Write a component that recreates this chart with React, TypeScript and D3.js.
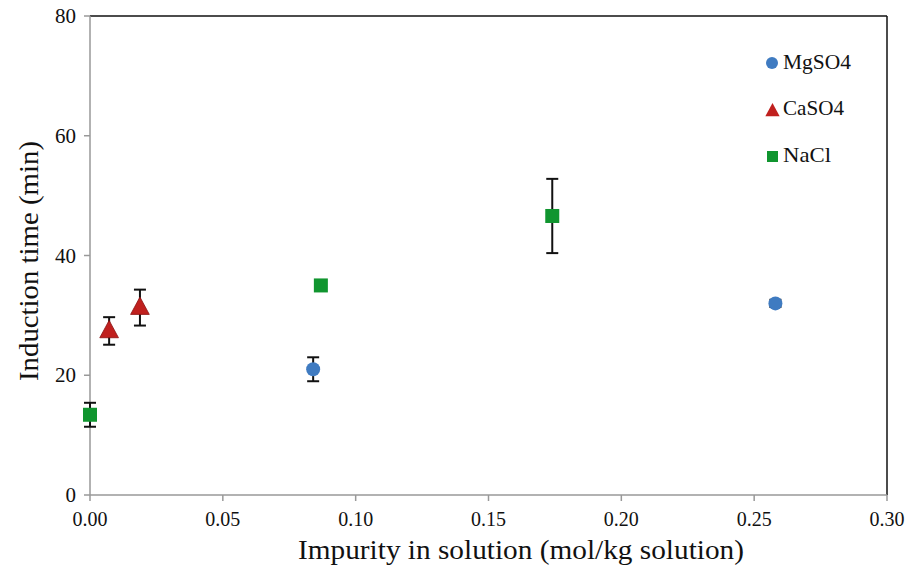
import React from "react";
import * as d3 from "d3";

const mgX = [0.084, 0.258];
const mgY = [21.0, 32.0];
const mgErr = [2.0, 0.6];

const caX = [0.0072, 0.0188];
const caY = [27.4, 31.3];
const caErr = [2.3, 3.0];

const naX = [0.0, 0.0869, 0.174];
const naY = [13.4, 35.0, 46.6];
const naErr = [2.0, 0.5, 6.2];

const xTicks = [0, 0.05, 0.1, 0.15, 0.2, 0.25, 0.3];
const yTicks = [0, 20, 40, 60, 80];

const W = 907, H = 569;
const L = 90, R = 887, T = 16, B = 495;
const FONT = "'Liberation Serif', 'DejaVu Serif', serif";

export default function App() {
  const x = d3.scaleLinear().domain([0, 0.3]).range([L, R]);
  const y = d3.scaleLinear().domain([0, 80]).range([B, T]);
  const blue = "#3f7bc1";
  const red = "#c0201e";
  const green = "#10952f";

  const errBar = (cx: number, cy: number, e: number, key: string) => {
    const y1 = y(cy + e), y2 = y(cy - e);
    return (
      <g key={key} stroke="#111" strokeWidth={2}>
        <line x1={x(cx)} x2={x(cx)} y1={y1} y2={y2} />
        <line x1={x(cx) - 6} x2={x(cx) + 6} y1={y1} y2={y1} />
        <line x1={x(cx) - 6} x2={x(cx) + 6} y1={y2} y2={y2} />
      </g>
    );
  };
  const tri = (cx: number, cy: number, s: number) =>
    `M${cx},${cy - s * 0.62} L${cx + s * 0.55},${cy + s * 0.4} L${cx - s * 0.55},${cy + s * 0.4} Z`;

  const legend = [
    { label: "MgSO4", by: 69, len: 68 },
    { label: "CaSO4", by: 115, len: 61 },
    { label: "NaCl", by: 162, len: 48 },
  ];

  return (
    <svg width={W} height={H} style={{ position: "absolute", left: 0, top: 0, background: "#fff" }}>
      <rect x={0} y={0} width={W} height={H} fill="#fff" />
      {/* frame */}
      <line x1={L} x2={R} y1={T} y2={T} stroke="#111" strokeWidth={1.5} />
      <line x1={R} x2={R} y1={T} y2={B} stroke="#111" strokeWidth={1.5} />
      <line x1={L} x2={L} y1={T} y2={B} stroke="#999" strokeWidth={1.5} />
      <line x1={L} x2={R} y1={B} y2={B} stroke="#999" strokeWidth={1.5} />
      {yTicks.map((t) => (
        <g key={"y" + t}>
          <line x1={L - 6} x2={L} y1={y(t)} y2={y(t)} stroke="#999" strokeWidth={1.5} />
          <text x={L - 14} y={y(t) + 7} textAnchor="end" fontFamily={FONT} fontSize={21} fill="#111">
            {t}
          </text>
        </g>
      ))}
      {xTicks.map((t) => (
        <g key={"x" + t}>
          <line x1={x(t)} x2={x(t)} y1={B} y2={B + 6} stroke="#999" strokeWidth={1.5} />
          <text x={x(t)} y={526} textAnchor="middle" fontFamily={FONT} fontSize={21} fill="#111"
            textLength={35} lengthAdjust="spacingAndGlyphs">
            {t.toFixed(2)}
          </text>
        </g>
      ))}
      <text x={521} y={559} textAnchor="middle" fontFamily={FONT} fontSize={28} fill="#111"
        textLength={446} lengthAdjust="spacingAndGlyphs">
        Impurity in solution (mol/kg solution)
      </text>
      <text
        transform={`translate(38,261) rotate(-90)`}
        textAnchor="middle"
        fontFamily={FONT}
        fontSize={28}
        fill="#111"
        textLength={240}
        lengthAdjust="spacingAndGlyphs"
      >
        Induction time (min)
      </text>

      {/* error bars */}
      {mgX.map((v, i) => errBar(v, mgY[i], mgErr[i], "me" + i))}
      {caX.map((v, i) => errBar(v, caY[i], caErr[i], "ce" + i))}
      {naX.map((v, i) => errBar(v, naY[i], naErr[i], "ne" + i))}

      {/* markers */}
      {mgX.map((v, i) => (
        <circle key={"m" + i} cx={x(v)} cy={y(mgY[i])} r={7} fill={blue} />
      ))}
      {caX.map((v, i) => (
        <path key={"c" + i} d={tri(x(v), y(caY[i]), 17)} fill={red} stroke="#8a1010" strokeWidth={0.8} />
      ))}
      {naX.map((v, i) => (
        <rect key={"n" + i} x={x(v) - 7} y={y(naY[i]) - 7} width={14} height={14} fill={green} />
      ))}

      {/* legend */}
      <circle cx={772} cy={63} r={6} fill={blue} />
      <path d={tri(772.5, 111, 13)} fill={red} />
      <rect x={767} y={151} width={11} height={11} fill={green} />
      {legend.map((d) => (
        <text key={d.label} x={783} y={d.by} fontFamily={FONT} fontSize={21} fill="#111"
          textLength={d.len} lengthAdjust="spacingAndGlyphs">
          {d.label}
        </text>
      ))}
    </svg>
  );
}
